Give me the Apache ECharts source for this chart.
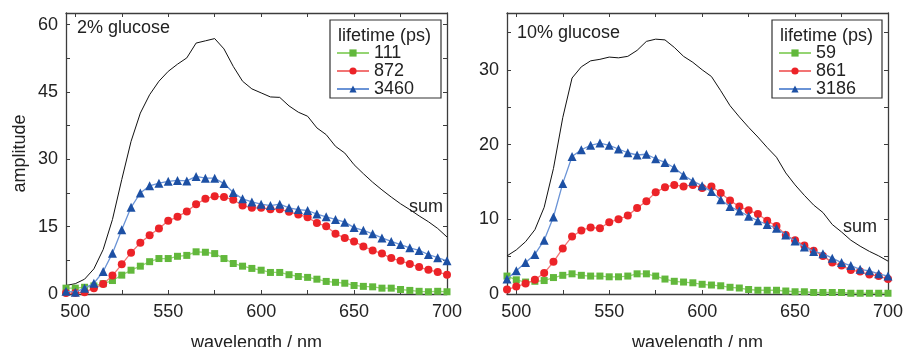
<!DOCTYPE html>
<html>
<head>
<meta charset="utf-8">
<script src="https://cdn.jsdelivr.net/npm/echarts@6/dist/echarts.min.js"></script>
<style>
  html, body { margin: 0; padding: 0; background: #fff; }
  #chart { width: 906px; height: 347px; }
</style>
</head>
<body>
<div id="chart"></div>
<script>
// Emission wavelength grid (nm), shared by both panels
const wavelengths = [495, 500, 505, 510, 515, 520, 525, 530, 535, 540, 545, 550, 555, 560,
  565, 570, 575, 580, 585, 590, 595, 600, 605, 610, 615, 620, 625, 630, 635, 640, 645, 650,
  655, 660, 665, 670, 675, 680, 685, 690, 695, 700];

// 2% glucose: decay-associated amplitudes per lifetime component
const glu2Names = ['111', '872', '3460'];
const glu2Short = [1.3, 1.3, 1.5, 1.8, 2.3, 3.0, 4.2, 5.3, 6.2, 7.2, 7.9, 7.9, 8.4, 8.6,
  9.4, 9.3, 9.0, 7.9, 6.8, 6.2, 5.7, 5.3, 4.8, 4.8, 4.3, 3.9, 3.7, 3.3, 2.8, 2.6, 2.4, 1.9,
  1.7, 1.6, 1.3, 1.3, 1.0, 0.8, 0.6, 0.5, 0.6, 0.5];
const glu2Mid = [0.2, 0.2, 0.4, 1.3, 2.2, 4.1, 6.6, 9.2, 11.4, 13.1, 14.6, 16.3, 17.2, 18.4,
  20.0, 21.2, 21.8, 21.6, 21.0, 19.7, 19.2, 19.2, 18.9, 18.9, 18.3, 17.7, 17.1, 15.8, 15.1, 13.4, 12.5, 11.7,
  10.6, 9.7, 9.0, 8.0, 7.4, 6.7, 6.0, 5.4, 4.9, 4.3];
const glu2Long = [0.6, 0.4, 1.3, 2.4, 5.0, 9.1, 14.3, 19.3, 22.5, 24.1, 24.7, 25.1, 25.3, 25.2,
  26.2, 25.8, 25.8, 24.6, 22.6, 21.2, 20.5, 20.0, 19.7, 20.0, 19.2, 18.8, 18.6, 17.8, 17.2, 16.6, 16.0, 14.8,
  14.2, 13.4, 12.5, 11.7, 11.0, 10.3, 9.7, 8.8, 8.1, 7.4];
const glu2Sum = [1.9, 2.3, 3.3, 5.6, 9.9, 16.6, 25.5, 34.0, 40.3, 44.4, 47.4, 49.6, 51.2, 52.6,
  55.9, 56.4, 56.9, 54.6, 50.7, 47.4, 45.7, 44.8, 43.9, 43.8, 41.9, 40.5, 39.6, 37.0, 35.5, 32.9, 31.4, 28.8,
  26.8, 24.9, 23.2, 21.6, 20.1, 18.8, 17.4, 16.1, 14.6, 12.7];

// 10% glucose
const glu10Names = ['59', '861', '3186'];
const glu10Short = [2.4, 1.9, 1.6, 1.7, 1.8, 2.2, 2.5, 2.7, 2.5, 2.4, 2.4, 2.3, 2.3, 2.4,
  2.7, 2.7, 2.4, 2.0, 1.7, 1.6, 1.5, 1.3, 1.2, 1.1, 0.9, 0.8, 0.6, 0.5, 0.5, 0.5, 0.4, 0.3,
  0.3, 0.2, 0.2, 0.2, 0.2, 0.1, 0.1, 0.1, 0.1, 0.1];
const glu10Mid = [0.6, 1.0, 1.4, 1.9, 2.8, 4.3, 6.1, 7.7, 8.5, 8.9, 8.8, 9.6, 10.0, 10.5,
  11.5, 12.4, 13.6, 14.3, 14.6, 14.4, 14.6, 14.2, 14.4, 13.5, 12.5, 11.7, 11.2, 10.7, 9.8, 9.1, 7.9, 7.2,
  6.5, 5.8, 5.1, 4.2, 3.8, 3.2, 3.0, 2.6, 2.4, 2.0];
const glu10Long = [2.0, 3.1, 4.2, 5.3, 7.2, 10.3, 14.8, 18.4, 19.3, 19.9, 20.2, 19.9, 19.4, 18.9,
  18.6, 18.7, 18.1, 17.6, 16.9, 15.9, 15.1, 14.5, 13.7, 12.6, 11.7, 11.1, 10.4, 9.8, 9.3, 8.8, 7.9, 7.1,
  6.3, 5.7, 5.4, 4.8, 4.2, 3.8, 3.3, 3.1, 2.7, 2.4];
const glu10Sum = [5.1, 5.9, 7.0, 8.6, 11.6, 16.8, 23.6, 28.9, 30.4, 31.2, 31.4, 31.7, 31.6, 31.8,
  32.6, 33.8, 34.1, 34.0, 33.0, 31.8, 31.0, 30.0, 29.1, 27.2, 25.2, 23.7, 22.3, 21.0, 19.6, 18.3, 16.2, 14.6,
  13.2, 11.9, 10.9, 9.3, 8.3, 7.2, 6.4, 5.7, 5.1, 4.4];

// Axis ticks and labels
const xLabelValues = [500, 550, 600, 650, 700];
const xTickValues = [500, 525, 550, 575, 600, 625, 650, 675, 700];
const glu2YLabels = [0, 15, 30, 45, 60];
const glu2YTicks = [0, 7.5, 15, 22.5, 30, 37.5, 45, 52.5, 60];
const glu10YLabels = [0, 10, 20, 30];
const glu10YTicks = [0, 5, 10, 15, 20, 25, 30, 35];

const FONT = '"Liberation Sans", Arial, Helvetica, sans-serif';
const TEXT = '#222';
const FRAME = '#3c3c3c';

const palette = [
  { marker: '#62b83c', line: '#95d473', symbol: 'rect', size: 7 },
  { marker: '#ec2328', line: '#f27474', symbol: 'circle', size: 8 },
  { marker: '#1d50a4', line: '#6a93d6', symbol: 'triangle', size: 9 }
];

const pts = arr => wavelengths.map((w, i) => [w, arr[i]]);

const axisLineStyle = { show: true, onZero: false, lineStyle: { color: FRAME, width: 1.3 } };

function xAxes(grid) {
  return [
    {
      type: 'value', gridIndex: grid, position: 'bottom', min: 495, max: 700,
      axisLine: axisLineStyle,
      axisTick: { show: true, inside: true, length: 4, customValues: xTickValues, lineStyle: { color: FRAME, width: 1 } },
      axisLabel: { customValues: xLabelValues, fontSize: 18, color: TEXT, fontFamily: FONT, margin: 9 },
      splitLine: { show: false },
      name: 'wavelength / nm', nameLocation: 'middle', nameGap: 40,
      nameTextStyle: { fontSize: 18, color: TEXT, fontFamily: FONT }
    },
    {
      type: 'value', gridIndex: grid, position: 'top', min: 495, max: 700,
      axisLine: axisLineStyle,
      axisTick: { show: true, inside: true, length: 4, customValues: xTickValues, lineStyle: { color: FRAME, width: 1 } },
      axisLabel: { show: false },
      splitLine: { show: false }
    }
  ];
}

function yAxes(grid, max, labels, ticks, name) {
  return [
    {
      type: 'value', gridIndex: grid, position: 'left', min: 0, max: max,
      axisLine: axisLineStyle,
      axisTick: { show: true, inside: true, length: 4, customValues: ticks, lineStyle: { color: FRAME, width: 1 } },
      axisLabel: { customValues: labels, fontSize: 18, color: TEXT, fontFamily: FONT, margin: 8 },
      splitLine: { show: false },
      name: name, nameLocation: 'middle', nameGap: 37,
      nameTextStyle: { fontSize: 18, color: TEXT, fontFamily: FONT }
    },
    {
      type: 'value', gridIndex: grid, position: 'right', min: 0, max: max,
      axisLine: axisLineStyle,
      axisTick: { show: true, inside: true, length: 4, customValues: ticks, lineStyle: { color: FRAME, width: 1 } },
      axisLabel: { show: false },
      splitLine: { show: false }
    }
  ];
}

function componentSeries(names, arrays, xIdx, yIdx) {
  return names.map((n, k) => ({
    name: n, type: 'line', xAxisIndex: xIdx, yAxisIndex: yIdx,
    data: pts(arrays[k]),
    symbol: palette[k].symbol, symbolSize: palette[k].size,
    itemStyle: { color: palette[k].marker },
    lineStyle: { color: palette[k].line, width: 1.3 },
    z: 3 + k
  }));
}

function sumSeries(name, arr, xIdx, yIdx) {
  return {
    name: name, type: 'line', xAxisIndex: xIdx, yAxisIndex: yIdx,
    data: pts(arr), symbol: 'none', showSymbol: false,
    lineStyle: { color: '#111', width: 1 }, z: 2
  };
}

function legendBlock(names, left) {
  return {
    data: names, orient: 'vertical', left: left, top: 44, padding: 0,
    itemWidth: 32, itemHeight: 9, itemGap: 0, selectedMode: false,
    textStyle: { fontSize: 18, color: TEXT, fontFamily: FONT, lineHeight: 17 },
    z: 20
  };
}

function txt(x, y, s, extra) {
  return Object.assign({
    type: 'text', x: x, y: y, z: 15,
    style: { text: s, fontSize: 18, fontFamily: FONT, fill: TEXT, verticalAlign: 'middle' }
  }, extra || {});
}

const chart = echarts.init(document.getElementById('chart'), null, { renderer: 'canvas' });

chart.setOption({
  animation: false,
  backgroundColor: '#fff',
  grid: [
    { left: 66, top: 13, width: 381, height: 281, containLabel: false, outerBoundsMode: 'none' },
    { left: 507, top: 13, width: 381, height: 281, containLabel: false, outerBoundsMode: 'none' }
  ],
  xAxis: [...xAxes(0), ...xAxes(1)],
  yAxis: [
    ...yAxes(0, 62.6, glu2YLabels, glu2YTicks, 'amplitude'),
    ...yAxes(1, 37.6, glu10YLabels, glu10YTicks, '')
  ],
  legend: [legendBlock(glu2Names, 336), legendBlock(glu10Names, 778)],
  series: [
    sumSeries('sum (2%)', glu2Sum, 0, 0),
    ...componentSeries(glu2Names, [glu2Short, glu2Mid, glu2Long], 0, 0),
    sumSeries('sum (10%)', glu10Sum, 2, 2),
    ...componentSeries(glu10Names, [glu10Short, glu10Mid, glu10Long], 2, 2)
  ],
  graphic: [
    { type: 'rect', shape: { x: 330, y: 20, width: 111, height: 78 },
      style: { fill: '#fff', stroke: '#333', lineWidth: 1.2 }, z: 10 },
    { type: 'rect', shape: { x: 772, y: 20, width: 110, height: 78 },
      style: { fill: '#fff', stroke: '#333', lineWidth: 1.2 }, z: 10 },
    txt(338, 36, 'lifetime (ps)'),
    txt(780, 36, 'lifetime (ps)'),
    txt(77, 28, '2% glucose'),
    txt(517, 33, '10% glucose'),
    txt(409, 207, 'sum'),
    txt(843, 227, 'sum')
  ]
});
</script>
</body>
</html>
